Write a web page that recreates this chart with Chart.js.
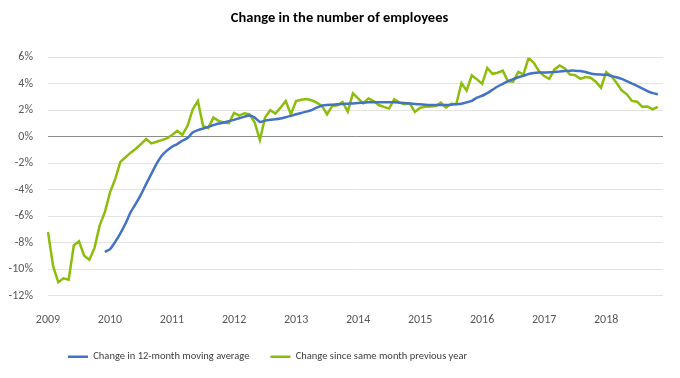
<!DOCTYPE html>
<html>
<head>
<meta charset="utf-8">
<script src="https://cdn.jsdelivr.net/npm/chart.js@4"></script>
<style>
  html, body { margin: 0; padding: 0; background: #fff; }
  #wrap { width: 680px; height: 378px; }
</style>
</head>
<body>
<div id="wrap"><canvas id="employeesChart"></canvas></div>
<script>
// Chart data (monthly, Jan 2009 - Dec 2018)
const years = ["2009", "2010", "2011", "2012", "2013", "2014", "2015", "2016", "2017", "2018"];
const monthNumbers = ["01", "02", "03", "04", "05", "06", "07", "08", "09", "10", "11", "12"];
const yTickValues = [-12, -10, -8, -6, -4, -2, 0, 2, 4, 6];

// Change since same month previous year (%)
const yearChange = [
  -7.2, -9.8, -11.0, -10.7, -10.8, -8.2, -7.9, -9.0, -9.3, -8.4, -6.7, -5.7,
  -4.2, -3.2, -1.9, -1.55, -1.2, -0.9, -0.55, -0.17, -0.5, -0.38, -0.25, -0.12,
  0.13, 0.45, 0.15, 0.83, 2.08, 2.7, 0.83, 0.65, 1.45, 1.2, 1.08, 1.03,
  1.8, 1.6, 1.78, 1.7, 1.08, -0.25, 1.45, 2.0, 1.75, 2.2, 2.7, 1.7,
  2.7, 2.8, 2.86, 2.76, 2.58, 2.33, 1.7, 2.33, 2.38, 2.63, 1.9, 3.28,
  2.9, 2.53, 2.9, 2.7, 2.4, 2.26, 2.13, 2.83, 2.58, 2.46, 2.53, 1.88,
  2.2, 2.26, 2.28, 2.33, 2.58, 2.2, 2.5, 2.46, 4.05, 3.5, 4.64, 4.34,
  4.0, 5.2, 4.76, 4.84, 5.0, 4.2, 4.16, 4.9, 4.71, 5.96, 5.59, 4.96,
  4.59, 4.38, 5.09, 5.39, 5.16, 4.71, 4.66, 4.38, 4.51, 4.46, 4.16, 3.71,
  4.89, 4.59, 4.08, 3.51, 3.21, 2.71, 2.65, 2.26, 2.28, 2.08, 2.26, null
];

// Change in 12-month moving average (%)
const movingAvg = [
  null, null, null, null, null, null, null, null, null, null, null, -8.7,
  -8.5, -7.95, -7.3, -6.56, -5.69, -5.06, -4.36, -3.56, -2.8, -2.05, -1.43, -1.05,
  -0.75, -0.55, -0.3, -0.1, 0.32, 0.5, 0.62, 0.75, 0.88, 1.0, 1.08, 1.18,
  1.28, 1.4, 1.52, 1.6, 1.45, 1.12, 1.22, 1.28, 1.32, 1.38, 1.48, 1.58,
  1.7, 1.8, 1.9, 2.02, 2.2, 2.35, 2.4, 2.42, 2.45, 2.48, 2.5, 2.52,
  2.55, 2.58, 2.6, 2.6, 2.6, 2.6, 2.6, 2.6, 2.58, 2.56, 2.52, 2.48,
  2.45, 2.42, 2.4, 2.4, 2.4, 2.4, 2.42, 2.46, 2.5, 2.6, 2.72, 2.95,
  3.1, 3.3, 3.55, 3.8, 4.0, 4.2, 4.35, 4.5, 4.6, 4.75, 4.82, 4.85,
  4.85, 4.87, 4.9, 4.93, 4.97, 5.0, 5.0, 4.97, 4.9, 4.78, 4.72, 4.7,
  4.68, 4.6, 4.5, 4.38, 4.2, 4.02, 3.85, 3.65, 3.45, 3.3, 3.21, null
];

const months = [];
years.forEach((y) => monthNumbers.forEach((m) => months.push(y + "-" + m)));

const FONT = 'Carlito, "Liberation Sans", sans-serif';

// moves legend and title a bit, like in the original
const boxShift = {
  id: "boxShift",
  afterLayout(chart) {
    chart.legend.left = 47;
    chart.titleBlock.left += 8;
    chart.titleBlock.right += 8;
  },
};

new Chart(document.getElementById("employeesChart"), {
  type: "line",
  data: {
    labels: months,
    datasets: [
      {
        label: "Change in 12-month moving average",
        data: movingAvg,
        borderColor: "#4472C4",
        backgroundColor: "#4472C4",
        borderWidth: 2.5,
        pointRadius: 0,
        tension: 0.2,
      },
      {
        label: "Change since same month previous year",
        data: yearChange,
        borderColor: "#8DBD0C",
        backgroundColor: "#8DBD0C",
        borderWidth: 2.5,
        pointRadius: 0,
        tension: 0,
      },
    ],
  },
  options: {
    responsive: true,
    maintainAspectRatio: false,
    animation: false,
    layout: { padding: { left: 0, right: 17, top: 0, bottom: 6 } },
    scales: {
      x: {
        grid: { display: false },
        border: { display: false },
        ticks: {
          autoSkip: false,
          maxRotation: 0,
          padding: 9,
          color: "#595959",
          font: { family: FONT, size: 12 },
          callback: function (value) {
            const label = this.getLabelForValue(value);
            return label.endsWith("-01") ? label.slice(0, 4) : "";
          },
        },
        afterFit: (scale) => {
          scale.height = 35;
        },
      },
      y: {
        min: -12,
        max: 6,
        afterBuildTicks: (scale) => {
          scale.ticks = yTickValues.map((v) => ({ value: v }));
        },
        grid: {
          drawTicks: false,
          color: (ctx) => (ctx.tick && ctx.tick.value === 0 ? "#8C8C8C" : "#E3E3E3"),
        },
        border: { display: false },
        ticks: {
          padding: 15,
          color: "#595959",
          font: { family: FONT, size: 12 },
          callback: (value) => value + "%",
        },
        afterFit: (scale) => {
          scale.width = 48;
        },
      },
    },
    plugins: {
      title: {
        display: true,
        text: "Change in the number of employees",
        color: "#000",
        font: { family: FONT, size: 14.5, weight: "bold" },
        padding: { top: 10, bottom: 30 },
      },
      legend: {
        position: "bottom",
        align: "start",
        labels: {
          boxWidth: 20,
          boxHeight: 0,
          padding: 21,
          color: "#404040",
          font: { family: FONT, size: 10.5 },
        },
      },
      tooltip: { enabled: false },
    },
  },
  plugins: [boxShift],
});
</script>
</body>
</html>
